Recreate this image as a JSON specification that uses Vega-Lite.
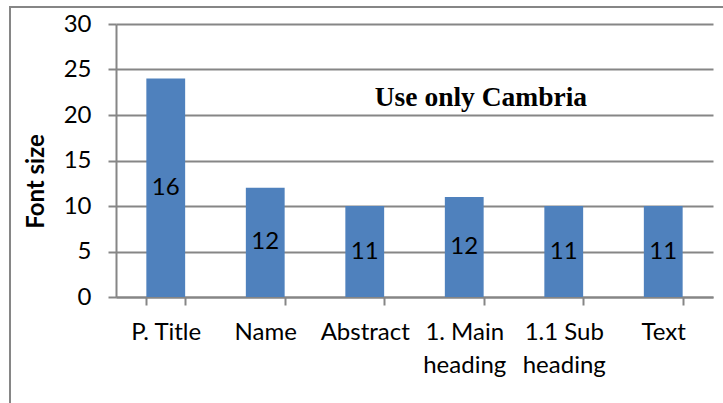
{
  "$schema": "https://vega.github.io/schema/vega-lite/v6.json",
  "width": 720,
  "height": 400,
  "autosize": {"type": "none"},
  "padding": {"left": 10, "top": 7, "right": 0, "bottom": 0},
  "background": "white",
  "config": {"view": {"stroke": "#868686", "strokeWidth": 2}, "font": "Lato"},
  "data": {"values": [
    {"category": "P. Title", "value": 24, "label": 16},
    {"category": "Name", "value": 12, "label": 12},
    {"category": "Abstract", "value": 10, "label": 11},
    {"category": "1. Main heading", "value": 11, "label": 12},
    {"category": "1.1 Sub heading", "value": 10, "label": 11},
    {"category": "Text", "value": 10, "label": 11}
  ]},
  "resolve": {"scale": {"y": "independent"}},
  "layer": [
    {
      "mark": {"type": "bar", "color": "#4F81BD"},
      "encoding": {
        "x": {
          "field": "category", "type": "nominal", "sort": null,
          "scale": {"range": [106, 703], "paddingInner": 0.61, "paddingOuter": 0.305},
          "axis": {
            "title": null, "labelAngle": 0, "offset": -110, "tickBand": "extent",
            "tickSize": 8, "tickColor": "#868686", "tickWidth": 2,
            "domainColor": "#868686", "domainWidth": 2,
            "labelFontSize": 24, "labelColor": "black", "labelPadding": 15,
            "labelLineHeight": 33, "labelBaseline": "top", "labelOverlap": false,
            "labelExpr": "datum.label == '1. Main heading' ? ['1. Main', 'heading'] : datum.label == '1.1 Sub heading' ? ['1.1 Sub', 'heading'] : datum.label",
            "grid": false
          }
        },
        "y": {
          "field": "value", "type": "quantitative",
          "scale": {"domain": [0, 30], "range": [290, 17], "nice": false},
          "axis": {
            "title": "Font size", "offset": -106, "values": [0, 5, 10, 15, 20, 25, 30],
            "tickSize": 8, "tickColor": "#868686", "tickWidth": 2,
            "domainColor": "#868686", "domainWidth": 2,
            "grid": true, "gridColor": "#868686", "gridWidth": 2,
            "labelFontSize": 24, "labelColor": "black", "labelPadding": 17,
            "titleFontSize": 24, "titleFontWeight": "bold", "titleColor": "black",
            "titleX": -79.5, "titleY": 174, "titleAngle": -90,
            "titleAlign": "center", "titleBaseline": "middle"
          }
        }
      }
    },
    {
      "mark": {"type": "text", "fontSize": 24, "baseline": "middle", "color": "black"},
      "encoding": {
        "x": {"field": "category", "type": "nominal", "sort": null},
        "y": {"field": "value", "type": "quantitative", "scale": {"domain": [0, 60], "range": [290, 17], "nice": false}, "axis": null},
        "text": {"field": "label"}
      }
    },
    {
      "data": {"values": [{"note": "Use only Cambria", "category": "Abstract", "level": 21}]},
      "mark": {"type": "text", "font": "Liberation Serif", "fontWeight": "bold", "fontSize": 27.5, "align": "left", "baseline": "alphabetic", "dx": 10, "color": "black"},
      "encoding": {
        "x": {"field": "category", "type": "nominal", "sort": null},
        "y": {"field": "level", "type": "quantitative", "scale": {"domain": [0, 30], "range": [290, 17], "nice": false}, "axis": null},
        "text": {"field": "note"}
      }
    }
  ]
}
